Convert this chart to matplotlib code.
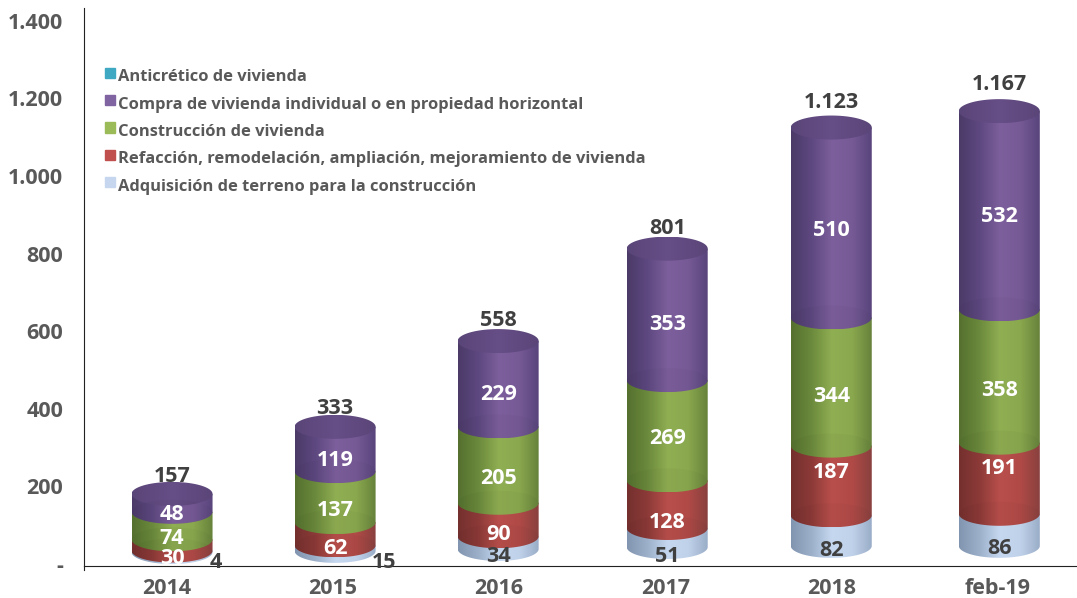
import numpy as np
import matplotlib
matplotlib.use("Agg")
import matplotlib.pyplot as plt
from matplotlib.colors import LinearSegmentedColormap
from matplotlib.patches import Patch, PathPatch
from matplotlib.path import Path
from matplotlib.transforms import ScaledTranslation

plt.rcParams['font.family'] = ['Open Sans', 'DejaVu Sans']
plt.rcParams['font.weight'] = 'bold'

### values
categories = ['2014', '2015', '2016', '2017', '2018', 'feb-19']
adquisicion = [4, 15, 34, 51, 82, 86]
refaccion = [30, 62, 90, 128, 187, 191]
construccion = [74, 137, 205, 269, 344, 358]
compra = [48, 119, 229, 353, 510, 532]
totals = ['157', '333', '558', '801', '1.123', '1.167']

y_ticks = [0, 200, 400, 600, 800, 1000, 1200, 1400]
y_tick_labels = ['-', '200', '400', '600', '800', '1.000', '1.200', '1.400']

legend_labels = ['Anticrético de vivienda',
                 'Compra de vivienda individual o en propiedad horizontal',
                 'Construcción de vivienda',
                 'Refacción, remodelación, ampliación, mejoramiento de vivienda',
                 'Adquisición de terreno para la construcción']
legend_colors = ['#3fa9c4', '#8064a2', '#9bbb59', '#c0504d', '#c6d6ee']

### cylinder look
series = [adquisicion, refaccion, construccion, compra]
ramps = [['#8195b0', '#9db0ca', '#c6d8f0', '#c0d2ea', '#98abc6'],
         ['#74302e', '#8c3a38', '#b94f4c', '#b04a47', '#87403e'],
         ['#55702f', '#6b8a3c', '#90ae52', '#8aa84e', '#64803a'],
         ['#4b3a68', '#5e4880', '#7c5f9c', '#765a96', '#57437a']]
cap_ramp = ['#5a4578', '#664e86', '#5a4578']
text_dark = '#404040'
tick_grey = '#595959'

px_x = 166.0      # pixels per category
px_y = 0.388      # pixels per value unit
half_w = 40.5 / px_x
half_h = 12 / px_y
depth = 0.96      # the 3D chart draws bars slightly shorter than its axis
bar_shift = [5, 2, -1, 2, 0, 2]       # px, from perspective
bar_base = [36, 39, 44, 49, 52, 52]   # value units, from perspective


def px2val(py):
    return (566 - py) / px_y


# pixel heights of data labels, one row per series
label_py = [[560, 560, 555, 555, 548, 547],
            [556, 546, 532, 520, 470, 467],
            [537, 508, 477, 437, 394, 389],
            [513, 459, 393, 323, 228, 215]]
total_py = [476, 408, 320, 227, 101, 84]
small_label_dx = [44, 49, 0, 0, 0, 0]   # the smallest labels slide off the bar
text_drop = 2     # px, Open Sans sits a little high with va=center


def cylinder_path(xc, y0, y1):
    t = np.linspace(np.pi, 2 * np.pi, 60)
    xs = xc + half_w * np.cos(t)
    ys = y0 + half_h * np.sin(t)
    xs = np.r_[xs, xc + half_w, xc - half_w, xc - half_w]
    ys = np.r_[ys, y1, y1, y0]
    return Path(np.c_[xs, ys])


def ellipse_path(xc, yc):
    t = np.linspace(0, 2 * np.pi, 120)
    return Path(np.c_[xc + half_w * np.cos(t), yc + half_h * np.sin(t)])


def shade(ax, path, xc, colors, y0, y1):
    cmap = LinearSegmentedColormap.from_list('c', colors)
    grad = np.linspace(0, 1, 256).reshape(1, -1)
    im = ax.imshow(grad, cmap=cmap, aspect='auto', zorder=3,
                   extent=(xc - half_w, xc + half_w, y0, y1))
    im.set_clip_path(PathPatch(path, transform=ax.transData))


fig = plt.figure(figsize=(10.77, 5.98), dpi=100)
ax = fig.add_axes([84 / 1077, 32 / 598, 993 / 1077, 558 / 598])

for i in range(len(categories)):
    xc = i + bar_shift[i] / px_x
    bottom = bar_base[i]
    for s, values in enumerate(series):
        top = bottom + values[i] * depth
        shade(ax, cylinder_path(xc, bottom, top), xc, ramps[s],
              bottom - half_h, top)
        # faint see-through rim of the segment below
        if s > 0:
            ax.add_patch(PathPatch(ellipse_path(xc, bottom), fc='black',
                                   ec='none', alpha=0.025, zorder=3.5))
        bottom = top
    shade(ax, ellipse_path(xc, bottom), xc, cap_ramp,
          bottom - half_h, bottom + half_h)

    for s, values in enumerate(series):
        color = 'white'
        x = xc
        if s == 0:
            color = text_dark
            x = xc + small_label_dx[i] / px_x
        ax.text(x, px2val(label_py[s][i] + text_drop), str(values[i]), color=color,
                ha='center', va='center', fontsize=15.5, zorder=5)
    ax.text(xc, px2val(total_py[i] + 1), totals[i], color=text_dark,
            ha='center', va='center', fontsize=15.5, zorder=5)

ax.set_xlim(-0.5, 5.48)
ax.set_ylim(0, 558 / px_y)
ax.set_xticks(range(len(categories)), categories)
ax.set_yticks(y_ticks, y_tick_labels)
ax.tick_params(axis='x', length=0, pad=9, labelsize=15.5, labelcolor=tick_grey)
ax.tick_params(axis='y', length=0, pad=15, labelsize=15.5, labelcolor=tick_grey)
# y labels sit 2px higher than the tick positions
nudge = ScaledTranslation(0, 2 / 72 * 0.72, fig.dpi_scale_trans)
for lab in ax.get_yticklabels():
    lab.set_transform(lab.get_transform() + nudge)
ax.spines['top'].set_visible(False)
ax.spines['right'].set_visible(False)
ax.spines['left'].set_color('#222222')
ax.spines['bottom'].set_color('#222222')
# left axis pokes a little below the base line
ax.plot([-0.5, -0.5], [0, px2val(570)], color='#222222', lw=0.8, clip_on=False)

handles = [Patch(color=c) for c in legend_colors]
leg = ax.legend(handles, legend_labels, loc='upper left', frameon=False,
                bbox_to_anchor=(0.021, 0.89), fontsize=11.85, labelcolor=tick_grey,
                handlelength=0.6, handleheight=0.6, handletextpad=0.2,
                labelspacing=0.69, borderpad=0, borderaxespad=0)
for h in leg.legend_handles:
    h.set_y(h.get_y() + 2)

fig.savefig('out.png', dpi=100)
